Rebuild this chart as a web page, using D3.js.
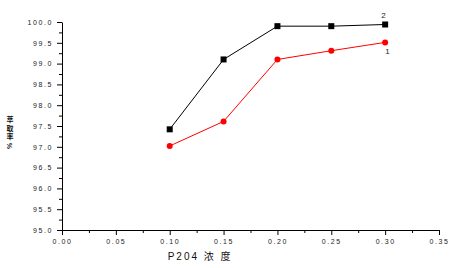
<!DOCTYPE html>
<html>
<head>
<meta charset="utf-8">
<script src="https://cdn.jsdelivr.net/npm/d3@7"></script>
<style>
  body { margin: 0; background: #fff; }
  .tick text { font-family: Arial, "Liberation Sans", sans-serif; font-size: 7px; letter-spacing: 1.6px; fill: #222; }
  .domain, .tick line { stroke: #000; }
</style>
</head>
<body>
<div id="chart"></div>
<script>
// chart data
var concentrations = [0.10, 0.15, 0.20, 0.25, 0.30];
var series1 = [97.02, 97.61, 99.10, 99.31, 99.51];   // red, circles
var series2 = [97.42, 99.10, 99.90, 99.90, 99.94];   // black, squares
var xTicks = [0, 0.05, 0.10, 0.15, 0.20, 0.25, 0.30, 0.35];
var yTicks = [95, 95.5, 96, 96.5, 97, 97.5, 98, 98.5, 99, 99.5, 100];
var yTitle = ["萃", "取", "率"];

var margin = {top: 22, right: 16, bottom: 38, left: 62};

var svg = d3.select("#chart").append("svg")
    .attr("width", 455)
    .attr("height", 268)
  .append("g")
    .attr("transform", "translate(" + margin.left + "," + margin.top + ")");

var x = d3.scaleLinear().domain([0, 0.35]).range([0, 377]);
var y = d3.scaleLinear().domain([95, 100]).range([208, 0]);

// minor ticks first
svg.append("g")
    .attr("transform", "translate(0,208)")
    .call(d3.axisBottom(x).tickValues(d3.range(0.025, 0.35, 0.05)).tickSize(3).tickFormat(""))
    .select(".domain").remove();
svg.append("g")
    .call(d3.axisLeft(y).tickValues(d3.range(95.25, 100, 0.5)).tickSize(3).tickFormat(""))
    .select(".domain").remove();

svg.append("g")
    .attr("transform", "translate(0,208)")
    .call(d3.axisBottom(x).tickValues(xTicks).tickSize(5).tickSizeOuter(0).tickPadding(4)
      .tickFormat(d3.format(".2f")));

svg.append("g")
    .call(d3.axisLeft(y).tickValues(yTicks).tickSize(5).tickSizeOuter(0).tickPadding(4)
      .tickFormat(d3.format(".1f")));

var line = d3.line()
    .x(function(d, i) { return x(concentrations[i]); })
    .y(function(d) { return y(d); });

svg.append("path")
    .datum(series2)
    .attr("fill", "none")
    .attr("stroke", "#000")
    .attr("stroke-width", 1)
    .attr("d", line);

svg.append("path")
    .datum(series1)
    .attr("fill", "none")
    .attr("stroke", "#ff0000")
    .attr("stroke-width", 1)
    .attr("d", line);

svg.selectAll(".sq")
    .data(series2)
  .enter().append("rect")
    .attr("x", function(d, i) { return x(concentrations[i]) - 3; })
    .attr("y", function(d) { return y(d) - 3; })
    .attr("width", 6)
    .attr("height", 6)
    .attr("fill", "#000");

svg.selectAll(".dot")
    .data(series1)
  .enter().append("circle")
    .attr("cx", function(d, i) { return x(concentrations[i]); })
    .attr("cy", function(d) { return y(d); })
    .attr("r", 3)
    .attr("fill", "#ff0000");

// series labels
svg.append("text")
    .attr("x", x(0.30) - 4)
    .attr("y", y(series2[4]) - 7)
    .attr("font-family", "Arial, sans-serif")
    .attr("font-size", 8)
    .attr("fill", "#222")
    .text("2");
svg.append("text")
    .attr("x", x(0.30))
    .attr("y", y(series1[4]) + 12)
    .attr("font-family", "Arial, sans-serif")
    .attr("font-size", 8)
    .attr("fill", "#222")
    .text("1");

// axis titles
svg.append("text")
    .attr("x", x(0.10) - 2)
    .attr("y", 238)
    .attr("font-family", "Arial, 'Noto Sans CJK SC', sans-serif")
    .attr("font-size", 10)
    .attr("letter-spacing", 2)
    .attr("fill", "#111")
    .text("P204 浓 度");

// y title: stacked characters, then a rotated %
svg.selectAll(".ytitle")
    .data(yTitle)
  .enter().append("text")
    .attr("x", -52)
    .attr("y", function(d, i) { return 100 + i * 8.5; })
    .attr("font-family", "'Noto Sans CJK SC', sans-serif")
    .attr("font-size", 7)
    .attr("font-weight", "bold")
    .attr("fill", "#111")
    .attr("text-anchor", "middle")
    .text(function(d) { return d; });
svg.append("text")
    .attr("transform", "translate(-52,124) rotate(-90)")
    .attr("font-family", "Arial, sans-serif")
    .attr("font-size", 7)
    .attr("font-weight", "bold")
    .attr("text-anchor", "middle")
    .attr("dy", "0.35em")
    .attr("fill", "#111")
    .text("%");
</script>
</body>
</html>
